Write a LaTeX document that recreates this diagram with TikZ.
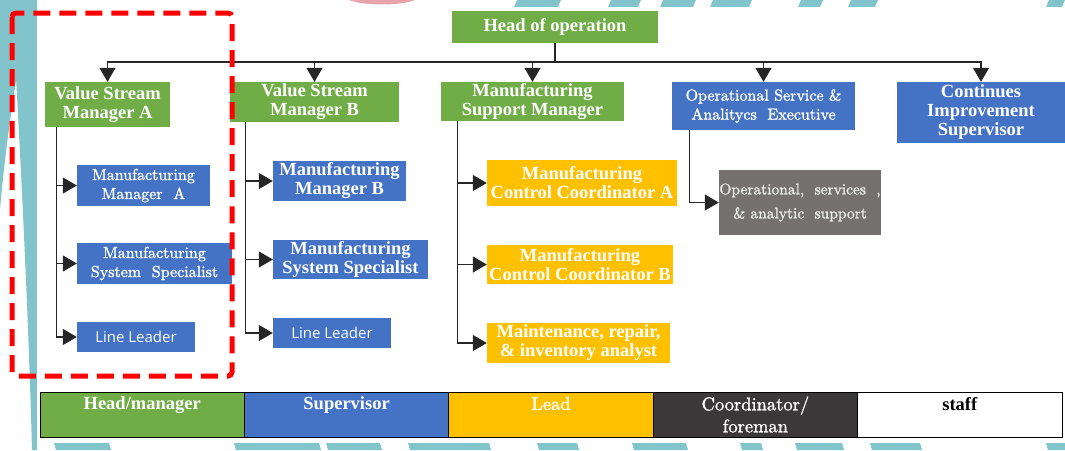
\documentclass[tikz,border=0pt]{standalone}
\usepackage{fontspec}
\newfontfamily\heavyserif{Liberation Serif}
\newfontfamily\lightserif{lmroman10-regular.otf}[FakeBold=1.4]
\newfontfamily\leaderfont{Open Sans}
\usepackage{xcolor}
\usetikzlibrary{arrows.meta}
\definecolor{figgreen}{HTML}{70AD47}
\definecolor{figblue}{HTML}{4472C4}
\definecolor{figgold}{HTML}{FFC000}
\definecolor{figgrey}{HTML}{767171}
\definecolor{figdark}{HTML}{3A3838}
\definecolor{figred}{HTML}{FF0000}
\definecolor{figteal}{HTML}{82C4CC}
\definecolor{figpink}{HTML}{E6A3AB}
\tikzset{
  unit/.style={fill=figblue,text=white,align=center,inner sep=0pt,font=\heavyserif\bfseries\fontsize{18.5}{19}\selectfont},
  plain/.style={font=\lightserif\fontsize{16}{19}\selectfont},
  leader/.style={font=\leaderfont\fontsize{15}{17}\selectfont},
  feed/.style={draw=black!85,line width=1.2pt,-{Triangle[width=16pt,length=14pt]}},
  keycell/.style={draw=black,line width=1pt,minimum width=204.4pt,minimum height=45pt,align=center,inner sep=0pt,text=white,font=\lightserif\fontsize{18.5}{22}\selectfont}
}

\begin{document}
\begin{tikzpicture}[x=1pt,y=-1pt]
  \useasboundingbox (0,0) rectangle (1065,450);
  \fill[figteal] (0,0) -- (30,0) .. controls (15,80) and (5,150) .. (0,210) -- cycle;
  \fill[figteal] (22,0) -- (37,0) -- (37,450) -- (32,450) .. controls (28,300) and (20,150) .. (14,40) -- cycle;
  \foreach \a/\b in {517/561,611/641,663/696,713/752,801/823,851/878,1049/1065}
    {\fill[figteal] (\a,0) -- (\b,0) -- (\b-3,7) -- (\a-3,7) -- cycle;}
  \fill[figpink] (349,0) -- (415,0) .. controls (400,6) and (364,6) .. (349,0) -- cycle;
  \foreach \a/\b in {54/109,234/319,326/380,408/489,537/577,632/686,740/761,795/842,870/920,1046/1065}
    {\fill[figteal] (\a,443) -- (\b,443) -- (\b+2,450) -- (\a+2,450) -- cycle;}
  \fill[white] (37,7) rectangle (1065,443);

  \node[unit,fill=figgreen,minimum width=206pt,minimum height=32pt] (head) at (555,27) {Head of operation};
  \node[unit,fill=figgreen,minimum width=125pt,minimum height=45pt] (vsma) at (107.5,104.5) {Value Stream\\Manager A};
  \node[unit,fill=figgreen,minimum width=169pt,minimum height=40pt] (vsmb) at (314.5,102) {Value Stream\\Manager B};
  \node[unit,fill=figgreen,minimum width=183pt,minimum height=39pt] (msm) at (532.5,101.5) {Manufacturing\\Support Manager};
  \node[unit,plain,minimum width=183pt,minimum height=48pt] (osae) at (763.5,106) {Operational\ Service\ \&\\Analitycs\ \ Executive};
  \node[unit,minimum width=168pt,minimum height=61pt] (cis) at (981,112.5) {Continues\\Improvement\\Supervisor};

  \node[unit,plain,minimum width=133pt,minimum height=41pt] (mma) at (143.5,185.5) {Manufacturing\\Manager\ \ A};
  \node[unit,plain,minimum width=155pt,minimum height=41pt] (mssa) at (154.5,263.5) {Manufacturing\\System\ \ Specialist};
  \node[unit,leader,minimum width=118pt,minimum height=30pt] (lla) at (136,337) {Line Leader};

  \node[unit,minimum width=133pt,minimum height=40pt] (mmb) at (339.5,181) {Manufacturing\\Manager B};
  \node[unit,minimum width=155pt,minimum height=39pt] (mssb) at (350.5,259.5) {Manufacturing\\System Specialist};
  \node[unit,leader,minimum width=118pt,minimum height=30pt] (llb) at (332,333) {Line Leader};

  \node[unit,fill=figgold,minimum width=190pt,minimum height=46pt] (mcca) at (582,183) {Manufacturing\\Control Coordinator A};
  \node[unit,fill=figgold,minimum width=186pt,minimum height=39pt] (mccb) at (580,264.5) {Manufacturing\\Control Coordinator B};
  \node[unit,fill=figgold,minimum width=183pt,minimum height=40pt] (mria) at (578.5,343) {Maintenance, repair,\\\& inventory analyst};

  \node[unit,fill=figgrey,text=white!92!black,minimum width=162pt,minimum height=65pt,font=\lightserif\fontsize{15.5}{24}\selectfont] (oas) at (800,202.5) {Operational,\ \ services\ \ ,\\\&\ analytic\ \ support};

  \coordinate (bus) at (555,62);
  \draw[draw=black!85,line width=1.2pt] (head.south) -- (bus);
  \foreach \n in {vsma,vsmb,msm,osae,cis} {\draw[feed] (bus) -| (\n.north);}
  \foreach \n in {mma,mssa,lla} {\draw[feed] ([xshift=12pt]vsma.south west) |- (\n.west);}
  \foreach \n in {mmb,mssb,llb} {\draw[feed] ([xshift=16pt]vsmb.south west) |- (\n.west);}
  \foreach \n in {mcca,mccb,mria} {\draw[feed] ([xshift=17pt]msm.south west) |- (\n.west);}
  \draw[feed] ([xshift=18pt]osae.south west) |- (oas.west);

  \draw[figred,line width=5pt,dash pattern=on 17pt off 9pt,rounded corners=4pt] (12,13) rectangle (232,376);

  \node[keycell,fill=figgreen] (kgreen) at (142.2,414.5) {\heavyserif\bfseries Head/manager\\~};
  \node[keycell,fill=figblue] (kblue) at (346.6,414.5) {\heavyserif\bfseries Supervisor\\~};
  \node[keycell,fill=figgold] (kgold) at (551,414.5) {Lead\\~};
  \node[keycell,fill=figdark] (kdark) at (755.4,414.5) {Coordinator/\\foreman};
  \node[keycell,fill=white,text=black] (kwhite) at (959.8,414.5) {\heavyserif\bfseries staff\\~};
\end{tikzpicture}
\end{document}
